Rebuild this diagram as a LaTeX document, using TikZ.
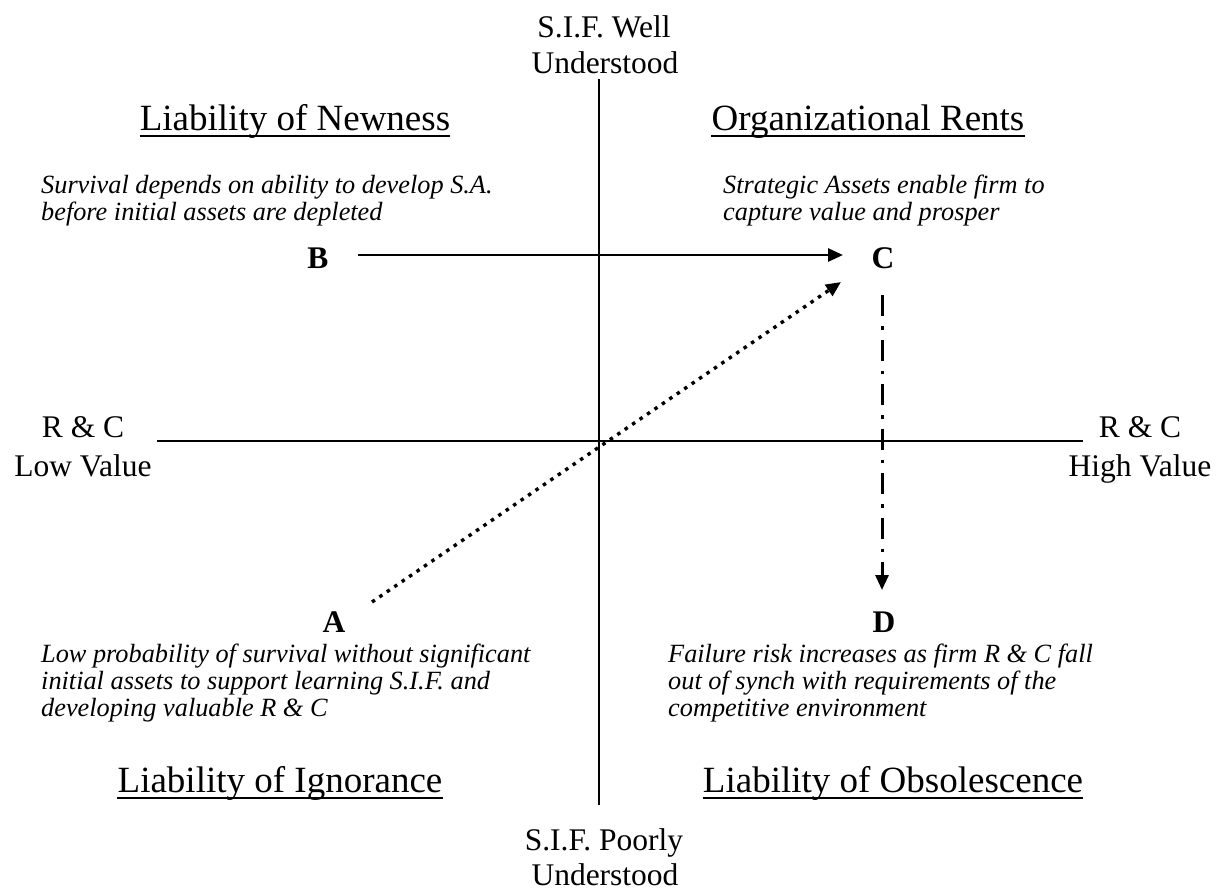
\documentclass[tikz,border=0pt]{standalone}
\usepackage{fontspec}
\setmainfont{Liberation Serif}
\usetikzlibrary{arrows.meta}
\begin{document}
\begin{tikzpicture}[x=1pt,y=-1pt,
  axislbl/.style={font=\fontsize{31.5}{34}\selectfont, anchor=base, inner sep=0pt},
  head/.style={font=\fontsize{37}{40}\selectfont, anchor=base, inner sep=0pt},
  desc/.style={font=\fontsize{26.3}{28}\selectfont\itshape, anchor=base west, inner sep=0pt},
  letter/.style={font=\fontsize{31.5}{34}\selectfont\bfseries, anchor=base, inner sep=0pt},
  axisline/.style={line width=2.2pt},
  uline/.style={line width=2.6pt},
  tip/.style={-{Triangle[length=15pt,width=13pt]}},
]
\useasboundingbox (0,0) rectangle (1222,892);

% axes
\coordinate (vtop) at (599,79);
\coordinate (vbot) at (599,805);
\coordinate (hl) at (157,441);
\coordinate (hr) at (1083,441);
\draw[axisline] (vtop) -- (vbot);
\draw[axisline] (hl) -- (hr);

% axis labels
\node[axislbl] (t1) at (604,37) {S.I.F. Well};
\node[axislbl] (t2) at (605,73) {Understood};
\node[axislbl] (b1) at (604,850) {S.I.F. Poorly};
\node[axislbl] (b2) at (605,885) {Understood};
\node[axislbl] (l1) at (83,437) {R \& C};
\node[axislbl] (l2) at (83,476) {Low Value};
\node[axislbl] (r1) at (1140,437) {R \& C};
\node[axislbl] (r2) at (1140,476) {High Value};

% quadrant headings
\node[head] (hn) at (295,130) {Liability of Newness};
\node[head] (hr2) at (868,130) {Organizational Rents};
\node[head] (hi) at (280,792) {Liability of Ignorance};
\node[head] (ho) at (893,792) {Liability of Obsolescence};
\foreach \h in {hn,hr2,hi,ho}
  \draw[uline] ([yshift=-6pt]\h.base west) -- ([yshift=-6pt]\h.base east);

% descriptions
\node[desc] (dn1) at (41,193) {Survival depends on ability to develop S.A.};
\node[desc] (dn2) at (41,220) {before initial assets are depleted};
\node[desc] (dr1) at (723,193) {Strategic Assets enable firm to};
\node[desc] (dr2) at (723,220) {capture value and prosper};
\node[desc] (di1) at (41,662) {Low probability of survival without significant};
\node[desc] (di2) at (41,689) {initial assets to support learning S.I.F. and};
\node[desc] (di3) at (41,716) {developing valuable R \& C};
\node[desc] (do1) at (668,662) {Failure risk increases as firm R \& C fall};
\node[desc] (do2) at (668,689) {out of synch with requirements of the};
\node[desc] (do3) at (668,716) {competitive environment};

% letters
\node[letter] (B) at (318,268) {B};
\node[letter] (C) at (883,268) {C};
\node[letter] (A) at (334,632) {A};
\node[letter] (D) at (884,632) {D};

% arrows
\coordinate (bs) at (358,255);
\coordinate (ce) at (843,255);
\draw[line width=2.8pt, tip] (bs) -- (ce);

\coordinate (as) at (372,602);
\coordinate (ce2) at (841,282);
\draw[line width=3.4pt, dash pattern=on 3.5pt off 5.5pt, tip] (as) -- (ce2);

\coordinate (cs) at (882,295);
\coordinate (de) at (882,590);
\draw[line width=3pt, dash pattern=on 21pt off 10pt on 3.5pt off 10pt, tip] (cs) -- (de);
\end{tikzpicture}
\end{document}
